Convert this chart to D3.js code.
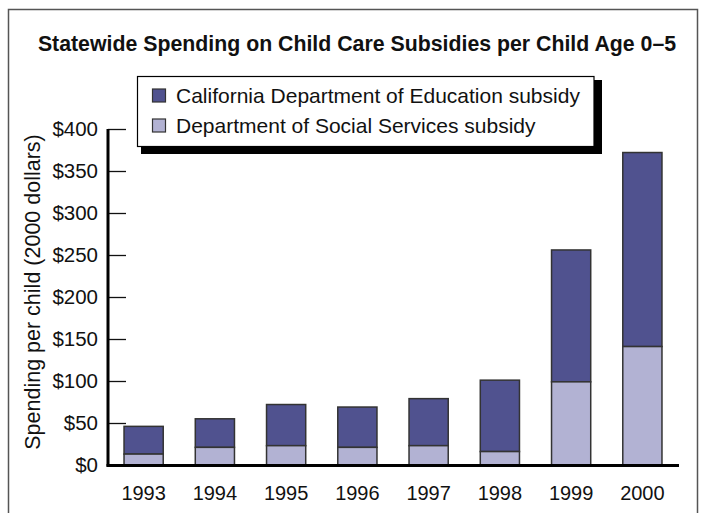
<!DOCTYPE html>
<html>
<head>
<meta charset="utf-8">
<script src="https://cdn.jsdelivr.net/npm/d3@7"></script>
<style>
  body { margin: 0; background: #fff; }
  text { font-family: "Liberation Sans", Arial, sans-serif; fill: #111; }
</style>
</head>
<body>
<div id="chart"></div>
<script>
// 年ごとのデータ
var years = ["1993", "1994", "1995", "1996", "1997", "1998", "1999", "2000"];
var dssValues = [13, 21, 23, 21, 23, 16, 99, 141];
var cdeValues = [33, 34, 49, 48, 56, 85, 157, 231];
var yTicks = [0, 50, 100, 150, 200, 250, 300, 350, 400];
var seriesNames = ["California Department of Education subsidy", "Department of Social Services subsidy"];
var seriesColors = ["#50528f", "#b2b2d3"];

var width = 705, height = 513;
var svg = d3.select("#chart").append("svg")
  .attr("width", width)
  .attr("height", height);

// 外枠
svg.append("path")
  .attr("d", "M8.5,513 V9.5 H697.5 V513")
  .attr("fill", "none")
  .attr("stroke", "#555")
  .attr("stroke-width", 1.5);

svg.append("text")
  .attr("x", 357)
  .attr("y", 51)
  .attr("text-anchor", "middle")
  .attr("font-size", 21.3)
  .attr("font-weight", "bold")
  .text("Statewide Spending on Child Care Subsidies per Child Age 0\u20135");

var x = d3.scaleBand()
  .domain(years)
  .range([108, 678])
  .paddingInner(0.45)
  .paddingOuter(0.225);

var y = d3.scaleLinear()
  .domain([0, 400])
  .range([465, 129]);

// 積み上げデータ
var rows = years.map(function(yr, i) {
  return { year: yr, dss: dssValues[i], cde: cdeValues[i] };
});
var stack = d3.stack().keys(["cde", "dss"]).order(d3.stackOrderReverse);
var layers = stack(rows);

var bars = svg.append("g");
layers.forEach(function(layer, k) {
  bars.append("g")
    .selectAll("rect")
    .data(layer)
    .enter()
    .append("rect")
    .attr("x", function(d) { return x(d.data.year); })
    .attr("y", function(d) { return y(d[1]); })
    .attr("width", x.bandwidth())
    .attr("height", function(d) { return y(d[0]) - y(d[1]); })
    .attr("fill", seriesColors[k])
    .attr("stroke", "#333")
    .attr("stroke-width", 1.5);
});

// y軸（目盛りは内側）
var yAxis = svg.append("g")
  .attr("transform", "translate(108,0)")
  .call(d3.axisRight(y).tickValues(yTicks).tickSize(18).tickFormat(""));
yAxis.select(".domain").remove();
yAxis.selectAll("line").attr("stroke", "#111").attr("stroke-width", 1.3);

svg.append("g")
  .selectAll("text")
  .data(yTicks)
  .enter()
  .append("text")
  .attr("x", 98)
  .attr("y", function(d) { return y(d); })
  .attr("dy", "0.35em")
  .attr("text-anchor", "end")
  .attr("font-size", 20.5)
  .text(function(d) { return "$" + d; });

svg.append("line")
  .attr("x1", 108).attr("x2", 108)
  .attr("y1", y(400)).attr("y2", 466.5)
  .attr("stroke", "#000").attr("stroke-width", 3);

var xAxis = svg.append("g")
  .attr("transform", "translate(0,465)")
  .call(d3.axisBottom(x).tickSize(0).tickPadding(21));
xAxis.select(".domain").remove();
xAxis.selectAll("text")
  .attr("font-size", 20)
  .attr("font-family", "Liberation Sans, Arial, sans-serif")
  .attr("fill", "#111");

svg.append("line")
  .attr("x1", 106.5).attr("x2", 679)
  .attr("y1", 465.5).attr("y2", 465.5)
  .attr("stroke", "#000").attr("stroke-width", 3);

svg.append("text")
  .attr("transform", "translate(40,292) rotate(-90)")
  .attr("text-anchor", "middle")
  .attr("font-size", 21.5)
  .text("Spending per child (2000 dollars)");

// 凡例
var lg = svg.append("g");
lg.append("rect")
  .attr("x", 141).attr("y", 80)
  .attr("width", 461).attr("height", 74)
  .attr("fill", "#000");
lg.append("rect")
  .attr("x", 137.5).attr("y", 76.5)
  .attr("width", 456.5).attr("height", 70)
  .attr("fill", "#fff")
  .attr("stroke", "#000")
  .attr("stroke-width", 1.2);

seriesNames.forEach(function(name, i) {
  var cy = 95.5 + i * 30;
  lg.append("rect")
    .attr("x", 152.5).attr("y", cy - 6.5)
    .attr("width", 13).attr("height", 13)
    .attr("fill", seriesColors[i])
    .attr("stroke", "#333")
    .attr("stroke-width", 1.2);
  lg.append("text")
    .attr("x", 176)
    .attr("y", cy)
    .attr("dy", "0.35em")
    .attr("font-size", 21)
    .text(name);
});
</script>
</body>
</html>
